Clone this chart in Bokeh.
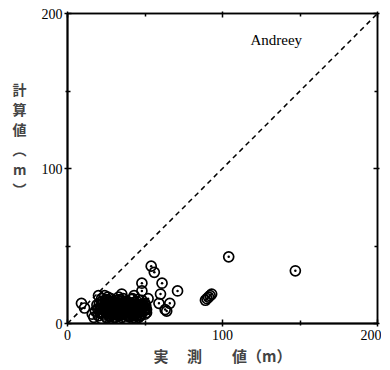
from bokeh.plotting import figure
from bokeh.models import Range1d, LinearAxis, Label, FixedTicker, Slope, ColumnDataSource
from bokeh.embed import file_html
from bokeh.resources import INLINE

# measured (実測値, m) vs calculated (計算値, m)
observed = [9, 11, 16, 17, 20, 24, 22, 35, 43, 48, 48, 54, 56, 61, 60, 71, 59, 66, 63, 64, 45, 48,
            89, 90, 91, 92, 93, 104, 147,
            18, 19, 20, 21, 22, 23, 24, 25, 25, 26, 27, 28, 28, 29, 30, 30, 31, 32, 32, 33, 34, 35,
            35, 36, 37, 38, 39, 40, 40, 41, 42, 43, 44, 45, 46, 46, 47, 48, 49, 50, 50, 51, 52,
            26, 33, 29, 38, 44, 22,
            21, 23, 26, 27, 29, 31, 33, 34, 36, 37, 39, 41, 42, 44, 46, 47, 49, 51,
            24, 28, 31, 35, 38, 42, 45, 49, 27, 33, 37, 41, 47,
            22, 25, 28, 30, 32, 34, 36, 39, 40, 43, 45, 48, 50, 27, 31, 35, 39, 43,
            19.5, 21.5, 23.5, 25.5, 27.5, 29.5, 31.5, 33.5, 35.5, 37.5, 39.5, 41.5, 43.5, 45.5, 47.5, 49.5,
            20.5, 22.5, 24.5, 26.5, 28.5, 30.5, 32.5, 34.5, 36.5, 38.5, 40.5, 42.5, 44.5, 46.5, 48.5, 50.5,
            23.5, 27.5, 31.5, 35.5, 39.5, 43.5, 47.5, 25.5, 29.5, 33.5, 37.5, 41.5, 45.5]
calculated = [13, 10, 6, 4, 18, 18, 16, 19, 18, 21, 26, 37, 33, 26, 19, 21, 13, 13, 9, 8, 5, 10,
              15, 16, 17, 18, 19, 43, 34,
              8, 12, 5, 10, 14, 7, 11, 4, 15, 9, 12, 6, 16, 10, 4, 13, 8, 11, 15, 6, 9, 13,
              4, 16, 7, 11, 14, 5, 9, 12, 16, 7, 10, 14, 4, 12, 8, 15, 11, 6, 13, 9, 16,
              17, 17, 3, 3, 3, 3,
              7, 13, 6, 10, 8, 11, 5, 13, 10, 8, 6, 11, 8, 12, 9, 5, 12, 7,
              9, 11, 6, 8, 12, 5, 9, 8, 14, 10, 13, 9, 11,
              10, 7, 9, 7, 10, 7, 9, 10, 7, 11, 7, 10, 9, 5, 4, 6, 5, 4,
              9.5, 6.5, 10.5, 8.5, 6.5, 11.5, 9.5, 7.5, 10.5, 8.5, 7.5, 9.5, 6.5, 10.5, 8.5, 9.5,
              12.5, 14.5, 12.5, 13.5, 11.5, 13.5, 12.5, 14.5, 12.5, 13.5, 11.5, 13.5, 12.5, 10.5, 12.5, 11.5,
              5.5, 4.5, 5.5, 5.5, 4.5, 5.5, 5.5, 15.5, 14.5, 15.5, 14.5, 15.5, 15.5]

x_ticks = [0, 100, 200]
x_minor = [50, 150]
model_name = "Andreey"
x_title = "実\u3000 測\u3000\u3000値（m）"
y_title = "計\n算\n値\n︵\nm\n︶\n\u3000\n\u3000\n\u3000"

src = ColumnDataSource(data=dict(x=observed, y=calculated))

p = figure(frame_width=310, frame_height=310,
           x_range=Range1d(0, 200), y_range=Range1d(0, 200),
           output_backend="svg", toolbar_location=None,
           min_border_left=67, min_border_right=4, min_border_top=13, min_border_bottom=33)
p.xgrid.visible = False
p.ygrid.visible = False
p.background_fill_color = "white"
p.border_fill_color = "white"
p.outline_line_color = "black"
p.outline_line_width = 1.5

ticker = FixedTicker(ticks=x_ticks, minor_ticks=x_minor)

for ax in (p.xaxis[0], p.yaxis[0]):
    ax.ticker = ticker
    ax.axis_line_width = 2
    ax.axis_line_color = "black"
    ax.major_tick_in = 4
    ax.major_tick_out = 3
    ax.minor_tick_in = 3
    ax.minor_tick_out = 2
    ax.major_tick_line_width = 1.5
    ax.minor_tick_line_width = 1.5
    ax.major_label_text_font = "Liberation Serif"
    ax.major_label_text_font_size = "14px"
    ax.major_label_text_color = "black"

p.xaxis.axis_label = x_title
p.xaxis.axis_label_text_font = "Noto Sans CJK JP"
p.xaxis.axis_label_text_font_style = "bold"
p.xaxis.axis_label_text_font_size = "15px"
p.xaxis.axis_label_standoff = 2
p.xaxis.major_label_standoff = 3

p.yaxis.axis_label = y_title
p.yaxis.axis_label_orientation = "horizontal"
p.yaxis.axis_label_text_font = "Noto Sans CJK JP"
p.yaxis.axis_label_text_font_style = "bold"
p.yaxis.axis_label_text_font_size = "14px"
p.yaxis.axis_label_text_line_height = 1.0
p.yaxis.axis_label_standoff = 12
p.yaxis.major_label_standoff = 2

for loc in ("above", "right"):
    ax = LinearAxis(ticker=ticker, major_label_overrides={0: "", 100: "", 200: ""},
                    major_tick_in=4, major_tick_out=2, minor_tick_in=3, minor_tick_out=0,
                    axis_line_width=1.5, major_tick_line_width=1.5, minor_tick_line_width=1.5,
                    major_label_standoff=0, major_label_text_font_size="1px")
    p.add_layout(ax, loc)

p.add_layout(Slope(gradient=1, y_intercept=0, line_color="black", line_width=1.5, line_dash="5 4"))

p.scatter("x", "y", source=src, marker="circle_dot", size=10, fill_color=None,
          line_color="black", line_width=1.7)

p.add_layout(Label(x=118, y=183, text=model_name, text_font="Liberation Serif",
                   text_font_size="15px", text_baseline="middle", text_color="black"))

open("out.html", "w").write(file_html(p, INLINE))
